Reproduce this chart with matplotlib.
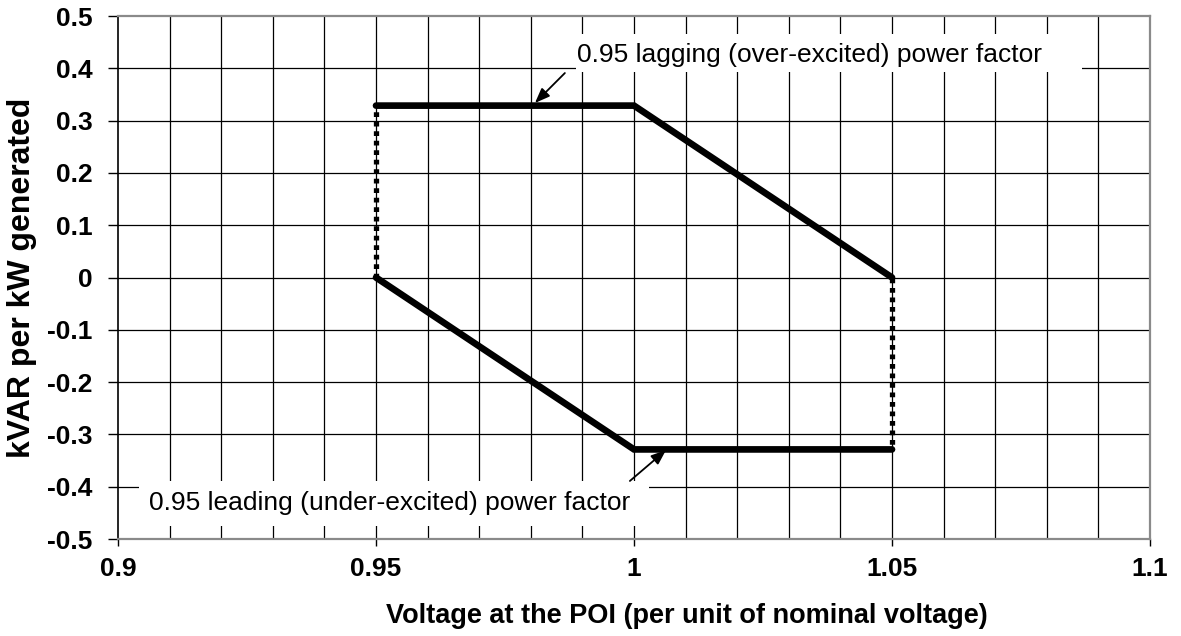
"""Reactive power capability vs POI voltage."""

import matplotlib
matplotlib.use("Agg")
import matplotlib.pyplot as plt
from matplotlib.patches import Rectangle
import numpy as np

plt.rcParams["font.family"] = ["Liberation Sans", "DejaVu Sans"]

# capability envelope (0.95 pf -> tan(acos(0.95)) ~ 0.3287 kVAR/kW)
q_max = 0.3287
solid_upper_v = [0.95, 1.00, 1.05]
solid_upper_q = [q_max, q_max, 0.0]
solid_lower_v = [0.95, 1.00, 1.05]
solid_lower_q = [0.0, -q_max, -q_max]
dotted_left_v = [0.95, 0.95]
dotted_left_q = [0.0, q_max]
dotted_right_v = [1.05, 1.05]
dotted_right_q = [0.0, -q_max]

x_ticks = [0.9, 0.95, 1.0, 1.05, 1.1]
x_tick_labels = ["0.9", "0.95", "1", "1.05", "1.1"]
y_ticks = [0.5, 0.4, 0.3, 0.2, 0.1, 0.0, -0.1, -0.2, -0.3, -0.4, -0.5]
y_tick_labels = ["0.5", "0.4", "0.3", "0.2", "0.1", "0", "-0.1", "-0.2", "-0.3", "-0.4", "-0.5"]

lag_text = "0.95 lagging (over-excited) power factor"
lead_text = "0.95 leading (under-excited) power factor"

fig = plt.figure(figsize=(11.81, 6.36), dpi=100)
ax = fig.add_axes([0.0999, 0.1525, 0.8739, 0.8223])

# grid: verticals every 0.01, horizontals every 0.1
for v in np.arange(0.91, 1.1, 0.01):
    ax.axvline(v, color="black", lw=0.9, zorder=1)
for q in y_ticks[1:-1]:
    ax.axhline(q, color="black", lw=0.9, zorder=1)

ax.plot(dotted_left_v, dotted_left_q, color="black", lw=3.8,
        linestyle=(0, (0.9, 0.9)), zorder=3)
ax.plot(dotted_right_v, dotted_right_q, color="black", lw=3.8,
        linestyle=(0, (0.9, 0.9)), zorder=3)
ax.plot(solid_upper_v, solid_upper_q, color="black", lw=4.8,
        solid_capstyle="round", solid_joinstyle="miter", zorder=4)
ax.plot(solid_lower_v, solid_lower_q, color="black", lw=4.8,
        solid_capstyle="round", solid_joinstyle="miter", zorder=4)

ax.set_xlim(0.9, 1.1)
ax.set_ylim(-0.5, 0.5)
ax.set_xticks(x_ticks)
ax.set_xticklabels(x_tick_labels, fontsize=19, fontweight="bold")
ax.set_yticks(y_ticks)
ax.set_yticklabels(y_tick_labels, fontsize=19, fontweight="bold")
ax.tick_params(axis="x", direction="out", length=5, width=1, pad=8)
ax.tick_params(axis="y", direction="out", length=7.2, width=1, pad=11)

for side in ["top", "bottom", "right"]:
    ax.spines[side].set_color("#8a8a8a")
    ax.spines[side].set_linewidth(1.6)
ax.spines["left"].set_color("black")
ax.spines["left"].set_linewidth(1.2)

ax.set_xlabel("Voltage at the POI (per unit of nominal voltage)",
              fontsize=19.5, fontweight="bold", va="center", ha="center")
ax.xaxis.set_label_coords(0.551, -0.148)
ax.set_ylabel("kVAR per kW generated", fontsize=23, fontweight="bold",
              va="center", ha="center")
ax.yaxis.set_label_coords(-0.093, 0.5)

# white label boxes (mask the grid behind the annotation text)
ax.add_patch(Rectangle((0.98876, 0.3929), 0.09806, 0.0727,
                       facecolor="white", edgecolor="none", zorder=5))
ax.add_patch(Rectangle((0.90407, -0.4751), 0.09884, 0.0860,
                       facecolor="white", edgecolor="none", zorder=5))
ax.text(1.0341, 0.4264, lag_text, fontsize=19, ha="center", va="center",
        zorder=6)
ax.text(0.95262, -0.4321, lead_text, fontsize=19, ha="center",
        va="center", zorder=6)

arrow = dict(arrowstyle="-|>,head_length=0.9,head_width=0.35",
             color="black", lw=1.3, shrinkA=0, shrinkB=0)
ax.annotate("", xy=(0.9808, 0.3337), xytext=(0.9866, 0.391),
            arrowprops=arrow, zorder=6)
ax.annotate("", xy=(1.0062, -0.330), xytext=(0.9992, -0.389),
            arrowprops=arrow, zorder=6)

fig.savefig("out.png", dpi=100)
